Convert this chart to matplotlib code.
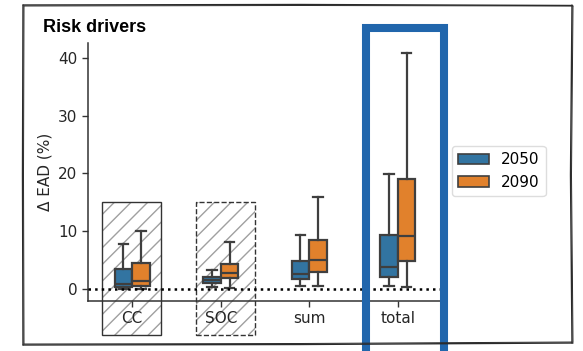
import matplotlib
matplotlib.use("Agg")
import matplotlib.pyplot as plt
from matplotlib.patches import Rectangle
from matplotlib.lines import Line2D
import numpy as np

# ---- data ----
categories = ["CC", "SOC", "sum", "total"]
years = ["2050", "2090"]
year_colors = ["#3274a1", "#e1812c"]

# box statistics per category (lower whisker, q1, median, q3, upper whisker)
whislo_2050 = [0.0, 0.3, 0.5, 0.5]
q1_2050     = [0.4, 1.0, 1.7, 2.1]
med_2050    = [0.9, 1.5, 2.6, 3.8]
q3_2050     = [3.5, 2.0, 4.75, 9.3]
whishi_2050 = [7.8, 3.3, 9.3, 19.9]

whislo_2090 = [0.0, 0.1, 0.5, 0.3]
q1_2090     = [0.5, 1.9, 3.0, 4.75]
med_2090    = [1.3, 2.8, 5.0, 9.2]
q3_2090     = [4.5, 4.3, 8.4, 19.1]
whishi_2090 = [10.1, 8.1, 15.9, 40.8]

yticks = [0, 10, 20, 30, 40]

W, H, DPI = 583, 351, 100
fig = plt.figure(figsize=(W / DPI, H / DPI), dpi=DPI)
ax = fig.add_axes([88 / W, 1 - 301 / H, 354 / W, 258 / H])

line_col = "#3f3f3f"
box_w = 0.2
offsets = [-0.1, 0.1]

def stats(lo, q1, med, q3, hi):
    return [dict(whislo=a, q1=b, med=c, q3=d, whishi=e, fliers=[])
            for a, b, c, d, e in zip(lo, q1, med, q3, hi)]

series = [
    stats(whislo_2050, q1_2050, med_2050, q3_2050, whishi_2050),
    stats(whislo_2090, q1_2090, med_2090, q3_2090, whishi_2090),
]

x = np.arange(len(categories))
for s, off, col in zip(series, offsets, year_colors):
    ax.bxp(s, positions=x + off, widths=box_w, patch_artist=True,
           showfliers=False, capwidths=0.11, manage_ticks=False,
           boxprops=dict(facecolor=col, edgecolor=line_col, linewidth=1.6),
           medianprops=dict(color=line_col, linewidth=1.6),
           whiskerprops=dict(color=line_col, linewidth=1.6),
           capprops=dict(color=line_col, linewidth=1.6),
           zorder=3)

ax.axhline(0, color="black", ls=":", lw=1.8, zorder=4)

# hatched highlight boxes around the single-driver categories
for left, ls in [(-0.34, "-"), (0.72, "--")]:
    ax.add_patch(Rectangle((left, -8.0), 0.67, 23.0, facecolor="none",
                           edgecolor="#a0a0a0", linewidth=0, hatch="//",
                           clip_on=False, zorder=1))
    ax.add_patch(Rectangle((left, -8.0), 0.67, 23.0, facecolor="none",
                           edgecolor="#333333", linewidth=1.0, linestyle=ls,
                           clip_on=False, zorder=2))

ax.set_xlim(-0.5, 3.5)
ax.set_ylim(-2.1, 42.6)
ax.set_xticks(x)
ax.set_xticklabels(categories, fontsize=11)
ax.set_yticks(yticks)
ax.set_yticklabels([str(v) for v in yticks], fontsize=11)
ax.tick_params(length=4, width=1, color="#333333", labelcolor="#262626")
for side in ["top", "right"]:
    ax.spines[side].set_visible(False)
for side in ["left", "bottom"]:
    ax.spines[side].set_color("#333333")
    ax.spines[side].set_linewidth(1.1)
ax.set_ylabel("Δ EAD (%)", fontsize=11, color="#262626", labelpad=4)

handles = [Rectangle((0, 0), 1, 1, facecolor=c, edgecolor=line_col, linewidth=1.2)
           for c in year_colors]
leg = ax.legend(handles, years, loc="upper left", bbox_to_anchor=(1.028, 0.60),
                borderaxespad=0, fontsize=11, frameon=True, handlelength=2.0)
leg.get_frame().set_edgecolor("#d5d5d5")

fig.text(43 / W, 1 - 32.5 / H, "Risk drivers", fontsize=13, fontweight="bold",
         family="Liberation Sans", ha="left", va="baseline")

# emphasis frame around "total"
fig.add_artist(Rectangle((366 / W, -0.1), 78 / W, 0.1 + (1 - 28 / H),
                         transform=fig.transFigure, facecolor="none",
                         edgecolor="#2166ac", linewidth=5.8, zorder=10))

# sketch-style outer border
def stroke(xs, ys, lw=1.0, col="#2b2b2b"):
    fig.add_artist(Line2D(np.array(xs) / W, 1 - np.array(ys) / H,
                          transform=fig.transFigure, color=col, lw=lw,
                          solid_capstyle="round", zorder=11))

stroke([23, 300, 572], [5, 4.5, 5.5])
stroke([24, 300, 573], [6, 5.5, 6.0], lw=0.7)
stroke([23, 22.5, 23], [5, 175, 345])
stroke([24, 23.5, 24], [6, 175, 344], lw=0.7)
stroke([23, 300, 573], [345, 344.5, 343])
stroke([24, 300, 572], [344, 343.5, 342], lw=0.7)
stroke([572, 570.5, 572], [5, 175, 343])
stroke([573, 571.5, 573], [6, 175, 342], lw=0.7)

fig.savefig("out.png", dpi=DPI)
